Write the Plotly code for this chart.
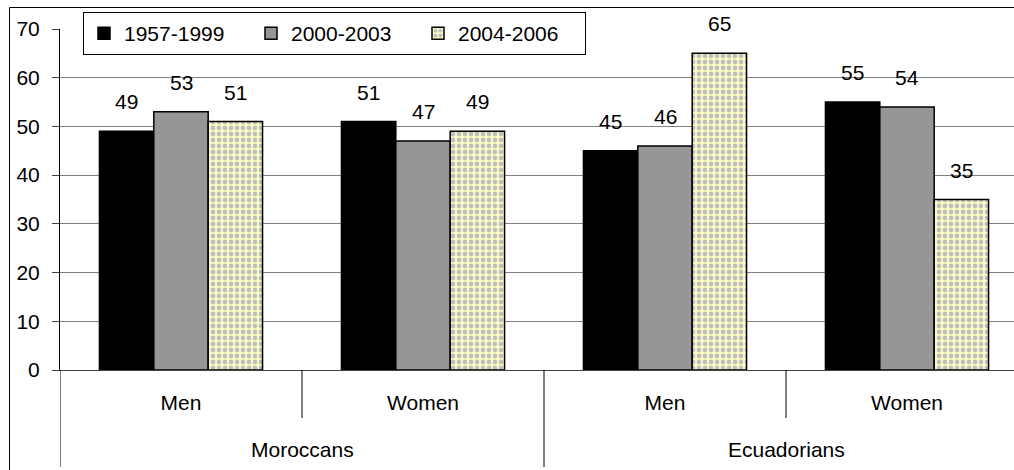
import plotly.graph_objects as go

# Survey data: share (%) by origin group, sex and arrival period
origins = ["Moroccans", "Moroccans", "Ecuadorians", "Ecuadorians"]
sexes = ["Men", "Women", "Men", "Women"]
periods = ["1957-1999", "2000-2003", "2004-2006"]
share_1957_1999 = [49, 51, 45, 55]
share_2000_2003 = [53, 47, 46, 54]
share_2004_2006 = [51, 49, 65, 35]

series = [share_1957_1999, share_2000_2003, share_2004_2006]

FONT = "Liberation Sans, Arial, sans-serif"
FS = 21
BARGAP = 0.326

W, H = 1014, 470
ML, MR, MT, MB = 60, 0, 29, 100
plot_w = W - ML - MR
plot_h = H - MT - MB
cat_px = 242.0  # pixel width of one category slot

pos = list(range(len(sexes)))
xmax = -0.5 + plot_w / cat_px


def px_x(px):
    return (px - ML) / plot_w


def px_y(py):
    return 1 - (py - MT) / plot_h


styles = [
    dict(color="#000000"),
    dict(color="#969696"),
    dict(color="#FFFFC4",
         pattern=dict(shape=".", fgcolor="#BFBFBF", bgcolor="#FFFFC4",
                      size=6, solidity=0.5, fillmode="replace")),
]

fig = go.Figure()
for name, vals, st in zip(periods, series, styles):
    fig.add_trace(go.Bar(
        x=pos, y=vals, name=name,
        marker=dict(line=dict(color="#000000", width=1.5), **st),
        hoverinfo="x+y",
    ))

# value labels above each bar
bw = (1 - BARGAP) / len(series)
annotations = []
for i, vals in enumerate(series):
    off = (i - (len(series) - 1) / 2) * bw
    for k, v in zip(pos, vals):
        annotations.append(dict(
            x=k + off, y=v, xref="x", yref="y", text=str(v),
            showarrow=False, yanchor="bottom", yshift=16,
            font=dict(family=FONT, size=FS, color="#000000"),
        ))

# outer group labels
group_names = []
for o in origins:
    if o not in group_names:
        group_names.append(o)
for g in group_names:
    idx = [k for k, o in zip(pos, origins) if o == g]
    annotations.append(dict(
        x=sum(idx) / len(idx), y=px_y(449), xref="x", yref="paper",
        text=g, showarrow=False, yanchor="middle",
        font=dict(family=FONT, size=FS, color="#000000"),
    ))

shapes = []
# dividers between sexes (short) and origin groups (long)
for k in pos:
    x_b = k - 0.5
    new_group = k == 0 or origins[k] != origins[k - 1]
    bottom = 467 if new_group else 418
    shapes.append(dict(type="line", xref="x", yref="paper",
                       x0=x_b, x1=x_b, y0=px_y(370), y1=px_y(bottom),
                       line=dict(color="#000000", width=1)))
# chart frame
shapes.append(dict(type="rect", xref="paper", yref="paper",
                   x0=px_x(9.5), x1=1.2, y0=px_y(7.5), y1=-1,
                   line=dict(color="#000000", width=1)))

fig.update_layout(
    width=W, height=H,
    margin=dict(l=ML, r=MR, t=MT, b=MB, pad=0),
    paper_bgcolor="#FFFFFF", plot_bgcolor="#FFFFFF",
    barmode="group", bargap=BARGAP, bargroupgap=0,
    font=dict(family=FONT, size=FS, color="#000000"),
    showlegend=True,
    legend=dict(
        orientation="h", x=px_x(83), y=px_y(12),
        xanchor="left", yanchor="top",
        bgcolor="#FFFFFF", bordercolor="#000000", borderwidth=1,
        font=dict(family=FONT, size=FS, color="#000000"),
        entrywidth=122, entrywidthmode="pixels",
        traceorder="normal",
    ),
    xaxis=dict(
        range=[-0.5, xmax], tickmode="array", tickvals=pos, ticktext=sexes,
        showgrid=False, zeroline=False, showline=True,
        linecolor="#404040", linewidth=1, ticks="",
        ticklabelstandoff=14,
        tickfont=dict(family=FONT, size=FS, color="#000000"),
        fixedrange=True,
    ),
    yaxis=dict(
        range=[0, 70], dtick=10, tick0=0,
        showgrid=True, gridcolor="#808080", gridwidth=1,
        zeroline=False, showline=True, linecolor="#000000", linewidth=1,
        ticks="outside", ticklen=7, tickcolor="#404040",
        ticklabelstandoff=8,
        tickfont=dict(family=FONT, size=FS, color="#000000"),
        fixedrange=True,
    ),
    annotations=annotations,
    shapes=shapes,
)

fig.write_html("out.html")
